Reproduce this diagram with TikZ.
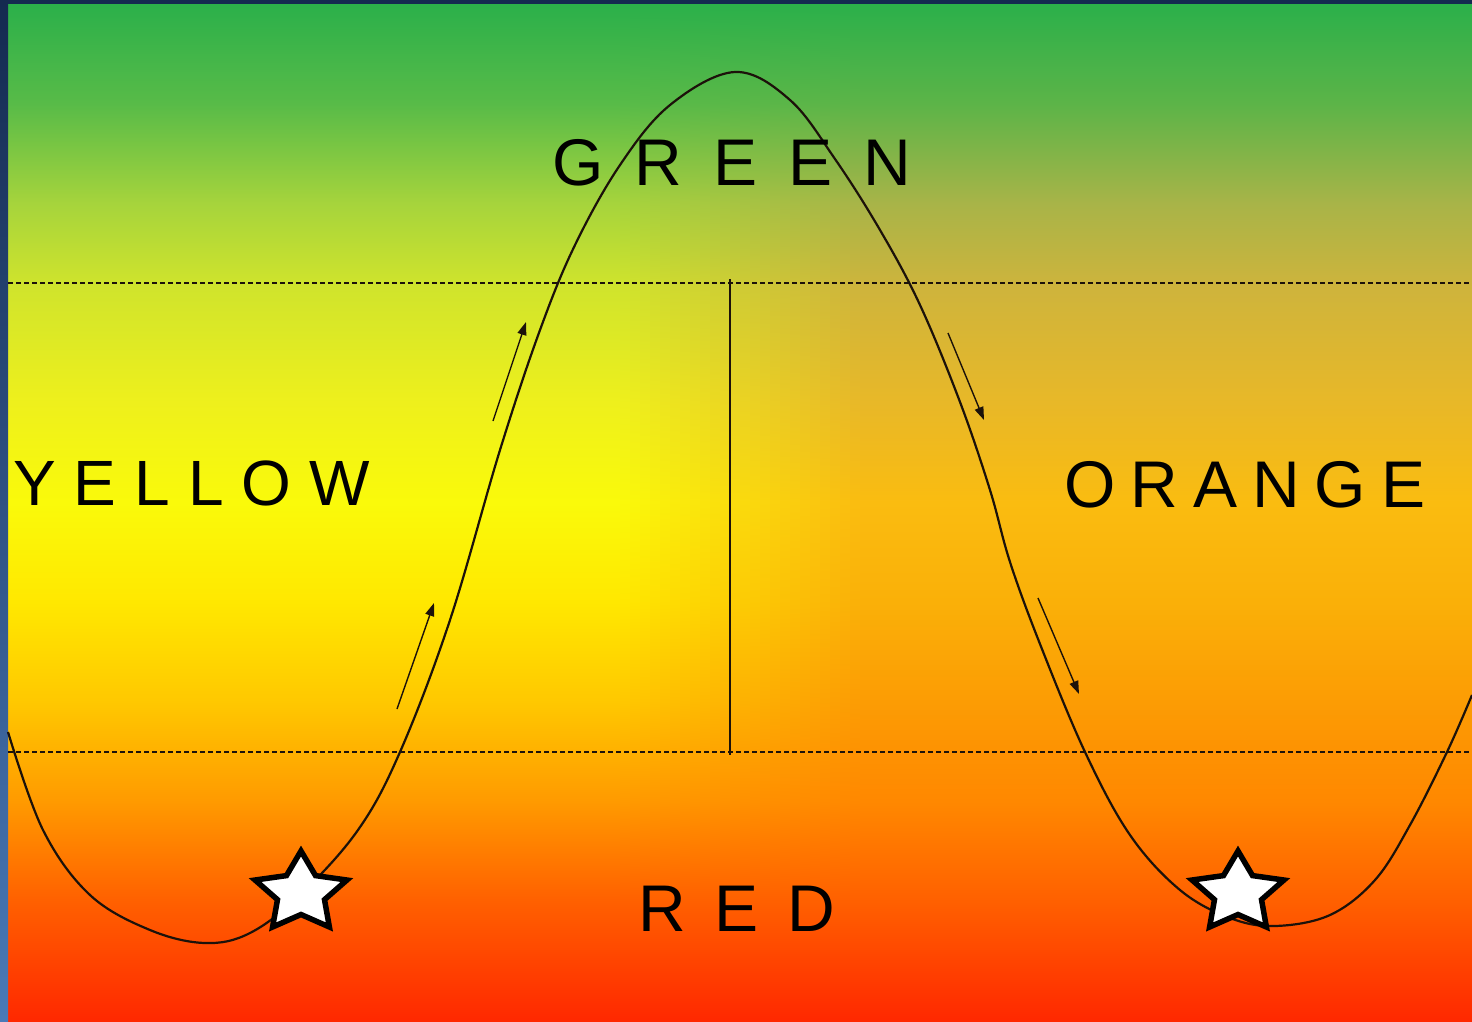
\documentclass[tikz,border=0pt]{standalone}
\usepackage{fontspec}
\setmainfont{Liberation Sans}
\usetikzlibrary{arrows.meta}

% left-hand (yellow side) stops, bottom to top
\definecolor{La}{RGB}{255,40,0}
\definecolor{Lb}{RGB}{255,96,0}
\definecolor{Lc}{RGB}{255,154,0}
\definecolor{Ld}{RGB}{255,200,0}
\definecolor{Le}{RGB}{255,232,0}
\definecolor{Lf}{RGB}{250,250,10}
\definecolor{Lg}{RGB}{238,240,28}
\definecolor{Lh}{RGB}{208,228,44}
\definecolor{Li}{RGB}{166,212,60}
\definecolor{Lj}{RGB}{88,187,72}
\definecolor{Lk}{RGB}{43,176,74}
% right-hand (orange side) stops, bottom to top
\definecolor{Ra}{RGB}{255,40,0}
\definecolor{Rb}{RGB}{255,96,0}
\definecolor{Rc}{RGB}{255,136,0}
\definecolor{Rd}{RGB}{252,156,4}
\definecolor{Re}{RGB}{250,176,8}
\definecolor{Rf}{RGB}{250,188,16}
\definecolor{Rg}{RGB}{232,184,40}
\definecolor{Rh}{RGB}{206,180,60}
\definecolor{Ri}{RGB}{168,180,72}
\definecolor{Rj}{RGB}{92,180,72}
\definecolor{Rk}{RGB}{43,176,74}
\definecolor{navyT}{RGB}{20,42,80}
\definecolor{blueB}{RGB}{74,122,184}
\definecolor{inkc}{RGB}{28,18,10}

\newcommand{\declmix}[2]{% name, percent of right side
  \colorlet{Ma}{Ra!#2!La}\colorlet{Mb}{Rb!#2!Lb}\colorlet{Mc}{Rc!#2!Lc}%
  \colorlet{Md}{Rd!#2!Ld}\colorlet{Me}{Re!#2!Le}\colorlet{Mf}{Rf!#2!Lf}%
  \colorlet{Mg}{Rg!#2!Lg}\colorlet{Mh}{Rh!#2!Lh}\colorlet{Mi}{Ri!#2!Li}%
  \colorlet{Mj}{Rj!#2!Lj}\colorlet{Mk}{Rk!#2!Lk}%
  \pgfdeclareverticalshading{#1}{100bp}{color(0bp)=(Ma); color(25bp)=(Ma); color(30.9bp)=(Mb); color(35.8bp)=(Mc); color(40.7bp)=(Md); color(45.6bp)=(Me); color(50.5bp)=(Mf); color(55.4bp)=(Mg); color(61.1bp)=(Mh); color(65.2bp)=(Mi); color(70.1bp)=(Mj); color(75bp)=(Mk); color(100bp)=(Mk)}%
}

\pgfdeclareverticalshading{leftbg}{100bp}{color(0bp)=(La); color(25bp)=(La); color(30.9bp)=(Lb); color(35.8bp)=(Lc); color(40.7bp)=(Ld); color(45.6bp)=(Le); color(50.5bp)=(Lf); color(55.4bp)=(Lg); color(61.1bp)=(Lh); color(65.2bp)=(Li); color(70.1bp)=(Lj); color(75bp)=(Lk); color(100bp)=(Lk)}
\pgfdeclareverticalshading{rightbg}{100bp}{color(0bp)=(Ra); color(25bp)=(Ra); color(30.9bp)=(Rb); color(35.8bp)=(Rc); color(40.7bp)=(Rd); color(45.6bp)=(Re); color(50.5bp)=(Rf); color(55.4bp)=(Rg); color(61.1bp)=(Rh); color(65.2bp)=(Ri); color(70.1bp)=(Rj); color(75bp)=(Rk); color(100bp)=(Rk)}

\tikzset{
  guide/.style={draw=inkc, line width=1.1pt, dash pattern=on 5pt off 3pt},
  wave/.style={draw=inkc, line width=2.2pt},
  flowarrow/.style={draw=inkc, line width=1.4pt, -{Triangle[length=13pt,width=9pt]}},
  zonelabel/.style={inner sep=0pt, anchor=base west, text=black, font=\fontsize{66}{78}\selectfont},
  starshape/.style={draw=black, fill=white, line width=5.5pt, line join=miter}
}

\begin{document}
\begin{tikzpicture}[x=1pt,y=-1pt]
\useasboundingbox (0,0) rectangle (1472,1021);

% background
\fill[shading=leftbg] (8,4) rectangle (621,1021);
\foreach \i in {0,...,23}{
  \pgfmathsetmacro{\xa}{620+10*\i}
  \pgfmathsetmacro{\xb}{631+10*\i}
  \pgfmathtruncatemacro{\pc}{round(100*(\i+0.5)/24)}
  \declmix{mixshade\i}{\pc}
  \fill[shading=mixshade\i] (\xa,4) rectangle (\xb,1021);
}
\fill[shading=rightbg] (860,4) rectangle (1472,1021);

% frame
\shade[top color=navyT, bottom color=blueB] (0,0) rectangle (8,1021);
\fill[navyT] (0,0) rectangle (1472,4);

% guide lines
\coordinate (gl1) at (8,283);
\coordinate (gr1) at (1472,283);
\coordinate (gl2) at (8,752);
\coordinate (gr2) at (1472,752);
\draw[guide] (gl1) -- (gr1);
\draw[guide] (gl2) -- (gr2);

\coordinate (vtop) at (730,279);
\coordinate (vbot) at (730,755);
\draw[draw=inkc, line width=1.8pt] (vtop) -- (vbot);

% wave
\draw[wave] plot[smooth, tension=0.6] coordinates {
 (8,732) (43,830) (90,895) (150,930) (205,943) (250,933) (300,895) (358,830)
 (400,752) (450,620) (500,450) (540,330) (575,245) (620,165) (670,105) (735,72)
 (790,100) (835,159) (880,230) (920,305) (960,402) (990,490) (1010,562) (1040,644)
 (1085,752) (1130,835) (1180,890) (1230,918) (1275,926) (1330,915) (1375,880) (1410,825)
 (1447,752) (1472,695)};

% arrows
\coordinate (a1s) at (397,709); \coordinate (a1e) at (434,603);
\coordinate (a2s) at (493,421); \coordinate (a2e) at (526,322);
\coordinate (a3s) at (948,333); \coordinate (a3e) at (984,420);
\coordinate (a4s) at (1038,598); \coordinate (a4e) at (1079,694);
\draw[flowarrow] (a1s) -- (a1e);
\draw[flowarrow] (a2s) -- (a2e);
\draw[flowarrow] (a3s) -- (a3e);
\draw[flowarrow] (a4s) -- (a4e);

% labels
\node[zonelabel] (green) at (552,185) {G\kern31pt R\kern31pt E\kern31pt E\kern31pt N};
\node[zonelabel, font=\fontsize{64}{76}\selectfont] (yellow) at (13,505) {Y\kern18pt E\kern18pt L\kern18pt L\kern18pt O\kern18pt W};
\node[zonelabel] (orange) at (1064,507) {O\kern15pt R\kern15pt A\kern15pt N\kern15pt G\kern15pt E};
\node[zonelabel] (red) at (638,931) {R\kern29pt E\kern29pt D};

% stars
\foreach \cx/\nm in {301/starL, 1238/starR}{
  \begin{scope}[shift={(\cx,893)}, xscale=1.15]
    \coordinate (\nm) at (0,0);
    \draw[starshape] (-90:42) -- (-54:21.5) -- (-18:42) -- (18:21.5) -- (54:42) -- (90:21.5)
      -- (126:42) -- (162:21.5) -- (198:42) -- (234:21.5) -- cycle;
  \end{scope}
}
\end{tikzpicture}
\end{document}
